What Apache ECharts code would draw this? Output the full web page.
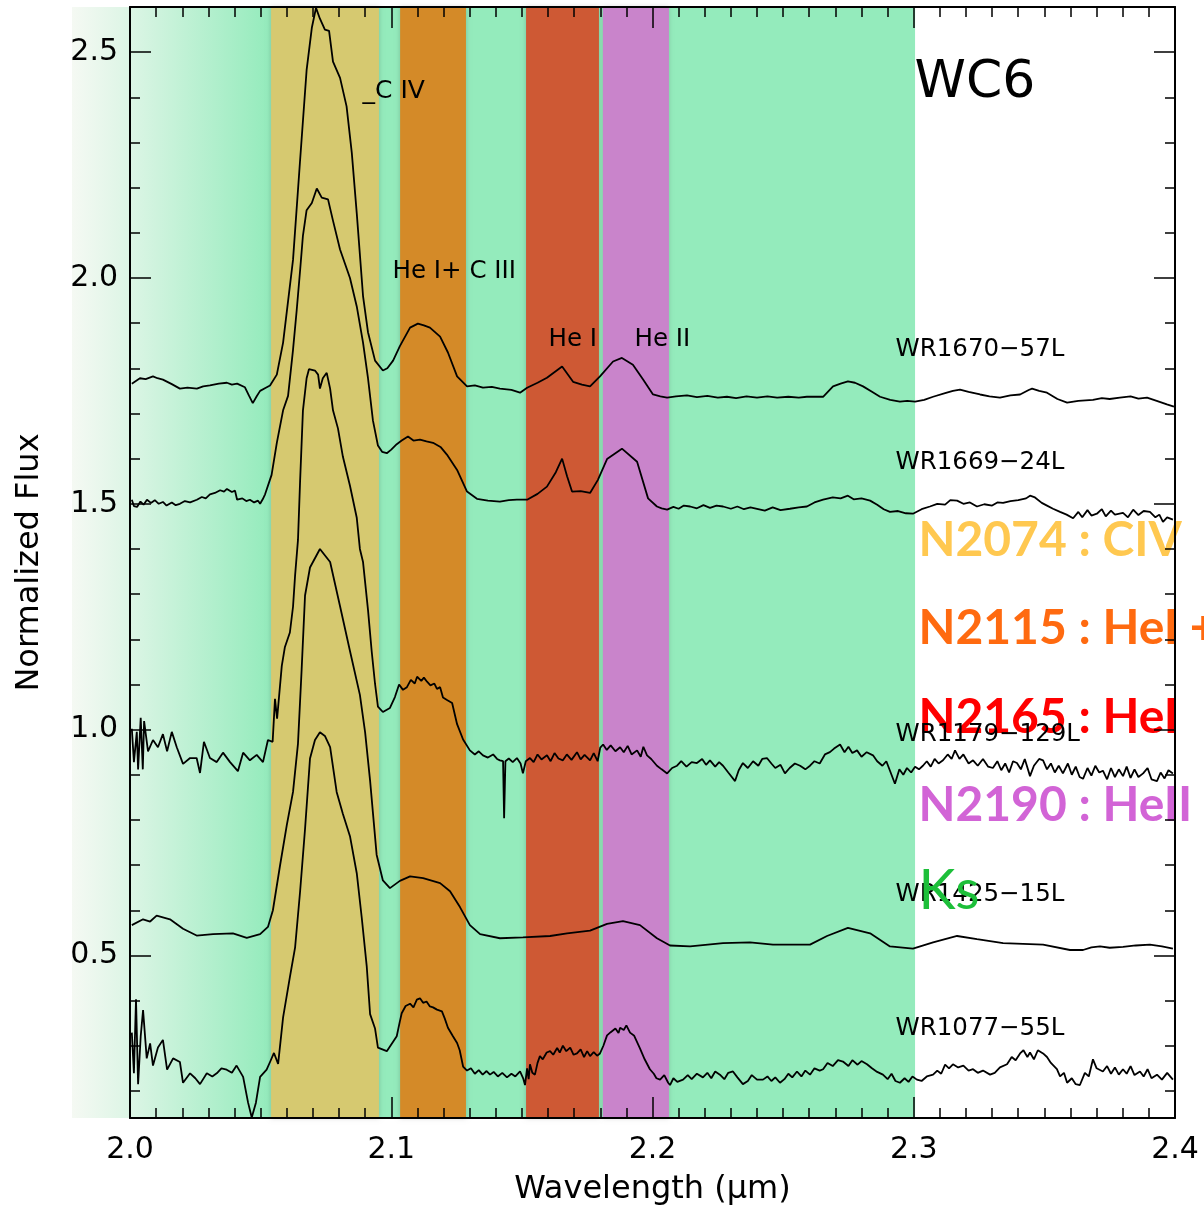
<!DOCTYPE html>
<html>
<head>
<meta charset="utf-8">
<script src="https://cdn.jsdelivr.net/npm/echarts@6/dist/echarts.min.js"></script>
<style>
html,body{margin:0;padding:0;background:#fff;}
#chart{width:1204px;height:1214px;}
</style>
</head>
<body>
<div id="chart"></div>
<script>
// ---------------- DATA ----------------
const xTickLabels = [2.0, 2.1, 2.2, 2.3, 2.4];
const yTickLabels = [0.5, 1.0, 1.5, 2.0, 2.5];
const yMinorTicks = [0.2, 0.3, 0.4, 0.6, 0.7, 0.8, 0.9, 1.1, 1.2, 1.3, 1.4, 1.6, 1.7, 1.8, 1.9, 2.1, 2.2, 2.3, 2.4];

// spectral windows (micron)
const bandNames = ['CIV', 'HeI+CIII', 'HeI', 'HeII'];
const bandStart = [2.0540, 2.1034, 2.1516, 2.1810];
const bandEnd   = [2.0953, 2.1286, 2.1795, 2.2063];
const ksStart = 2.0536, ksEnd = 2.3005;

// spectra: [wavelength (um), normalized flux]
const wr1670 = [[2.0007,1.766],[2.0038,1.778],[2.0060,1.776],[2.0088,1.782],[2.0105,1.778],[2.0126,1.775],[2.0160,1.765],[2.0191,1.755],[2.0220,1.757],[2.0256,1.755],[2.0280,1.760],[2.0306,1.762],[2.0340,1.766],[2.0371,1.768],[2.0390,1.764],[2.0410,1.766],[2.0440,1.758],[2.0455,1.740],[2.0470,1.723],[2.0485,1.738],[2.0498,1.750],[2.0520,1.757],[2.0536,1.762],[2.0562,1.786],[2.0586,1.857],[2.0624,2.040],[2.0651,2.260],[2.0676,2.460],[2.0696,2.554],[2.0712,2.598],[2.0727,2.574],[2.0746,2.550],[2.0762,2.547],[2.0777,2.479],[2.0804,2.443],[2.0829,2.380],[2.0849,2.277],[2.0868,2.143],[2.0892,1.960],[2.0911,1.880],[2.0938,1.817],[2.0968,1.795],[2.0985,1.800],[2.1007,1.817],[2.1033,1.849],[2.1072,1.890],[2.1102,1.899],[2.1125,1.895],[2.1148,1.890],[2.1187,1.870],[2.1217,1.835],[2.1252,1.782],[2.1290,1.760],[2.1320,1.762],[2.1351,1.757],[2.1385,1.759],[2.1416,1.755],[2.1460,1.752],[2.1493,1.746],[2.1520,1.757],[2.1560,1.768],[2.1596,1.779],[2.1654,1.804],[2.1696,1.770],[2.1730,1.764],[2.1761,1.760],[2.1799,1.782],[2.1849,1.815],[2.1883,1.823],[2.1925,1.808],[2.1964,1.775],[2.2002,1.742],[2.2030,1.738],[2.2056,1.735],[2.2090,1.738],[2.2132,1.740],[2.2170,1.736],[2.2210,1.739],[2.2250,1.735],[2.2285,1.737],[2.2320,1.734],[2.2360,1.738],[2.2400,1.735],[2.2440,1.738],[2.2477,1.735],[2.2520,1.737],[2.2560,1.735],[2.2591,1.737],[2.2653,1.737],[2.2691,1.760],[2.2720,1.766],[2.2748,1.771],[2.2775,1.768],[2.2806,1.760],[2.2840,1.748],[2.2871,1.737],[2.2910,1.730],[2.2947,1.726],[2.2975,1.728],[2.3005,1.726],[2.3040,1.730],[2.3074,1.737],[2.3120,1.745],[2.3150,1.750],[2.3177,1.753],[2.3210,1.748],[2.3254,1.742],[2.3290,1.738],[2.3330,1.735],[2.3370,1.740],[2.3407,1.742],[2.3440,1.752],[2.3453,1.755],[2.3480,1.750],[2.3510,1.746],[2.3550,1.732],[2.3587,1.724],[2.3630,1.728],[2.3686,1.730],[2.3720,1.734],[2.3750,1.732],[2.3789,1.735],[2.3830,1.738],[2.3860,1.733],[2.3893,1.735],[2.3930,1.728],[2.3969,1.720],[2.3996,1.715]];

const wr1669 = [[2.0007,1.509],[2.0015,1.495],[2.0027,1.493],[2.0040,1.505],[2.0052,1.498],[2.0065,1.509],[2.0080,1.502],[2.0095,1.508],[2.0110,1.500],[2.0126,1.504],[2.0140,1.496],[2.0160,1.503],[2.0175,1.497],[2.0191,1.500],[2.0210,1.506],[2.0230,1.503],[2.0256,1.509],[2.0275,1.515],[2.0290,1.512],[2.0306,1.521],[2.0325,1.524],[2.0345,1.530],[2.0360,1.527],[2.0371,1.533],[2.0390,1.526],[2.0402,1.529],[2.0410,1.509],[2.0430,1.512],[2.0445,1.506],[2.0459,1.509],[2.0475,1.503],[2.0490,1.507],[2.0498,1.500],[2.0508,1.510],[2.0517,1.521],[2.0542,1.564],[2.0562,1.635],[2.0586,1.707],[2.0605,1.739],[2.0624,1.841],[2.0638,1.928],[2.0651,2.016],[2.0662,2.094],[2.0676,2.150],[2.0696,2.166],[2.0715,2.198],[2.0734,2.178],[2.0758,2.174],[2.0777,2.127],[2.0804,2.063],[2.0842,2.000],[2.0868,1.937],[2.0892,1.857],[2.0911,1.778],[2.0930,1.684],[2.0949,1.629],[2.0965,1.615],[2.0983,1.612],[2.1000,1.620],[2.1021,1.632],[2.1040,1.640],[2.1064,1.649],[2.1085,1.640],[2.1110,1.642],[2.1135,1.638],[2.1160,1.635],[2.1190,1.625],[2.1213,1.609],[2.1252,1.575],[2.1290,1.527],[2.1328,1.511],[2.1370,1.507],[2.1416,1.505],[2.1450,1.508],[2.1481,1.509],[2.1520,1.509],[2.1560,1.522],[2.1596,1.538],[2.1630,1.570],[2.1654,1.600],[2.1673,1.561],[2.1692,1.527],[2.1725,1.528],[2.1761,1.524],[2.1791,1.553],[2.1826,1.599],[2.1883,1.622],[2.1941,1.593],[2.1983,1.512],[2.2017,1.494],[2.2035,1.490],[2.2056,1.487],[2.2080,1.493],[2.2100,1.489],[2.2120,1.496],[2.2144,1.494],[2.2170,1.490],[2.2195,1.497],[2.2220,1.491],[2.2245,1.496],[2.2270,1.494],[2.2300,1.489],[2.2325,1.494],[2.2350,1.488],[2.2375,1.492],[2.2400,1.489],[2.2430,1.485],[2.2460,1.492],[2.2490,1.486],[2.2526,1.489],[2.2560,1.492],[2.2591,1.494],[2.2620,1.503],[2.2653,1.509],[2.2690,1.514],[2.2720,1.512],[2.2748,1.518],[2.2770,1.510],[2.2800,1.512],[2.2833,1.507],[2.2860,1.498],[2.2885,1.488],[2.2909,1.482],[2.2940,1.484],[2.2970,1.479],[2.2997,1.478],[2.3030,1.488],[2.3062,1.494],[2.3090,1.500],[2.3120,1.498],[2.3140,1.508],[2.3166,1.507],[2.3190,1.500],[2.3215,1.503],[2.3242,1.494],[2.3270,1.499],[2.3300,1.496],[2.3320,1.503],[2.3342,1.502],[2.3370,1.506],[2.3400,1.508],[2.3430,1.512],[2.3445,1.518],[2.3464,1.514],[2.3490,1.502],[2.3510,1.496],[2.3533,1.489],[2.3560,1.482],[2.3585,1.476],[2.3610,1.468],[2.3630,1.482],[2.3645,1.470],[2.3665,1.486],[2.3680,1.474],[2.3701,1.478],[2.3720,1.488],[2.3735,1.472],[2.3755,1.485],[2.3770,1.476],[2.3801,1.480],[2.3820,1.470],[2.3840,1.487],[2.3860,1.475],[2.3880,1.484],[2.3904,1.482],[2.3925,1.470],[2.3940,1.476],[2.3954,1.460],[2.3970,1.470],[2.3992,1.465]];

const wr1179 = [[2.0007,1.002],[2.0015,0.928],[2.0026,0.995],[2.0031,0.912],[2.0041,1.026],[2.0049,0.912],[2.0054,1.019],[2.0069,0.952],[2.0088,0.977],[2.0107,0.961],[2.0126,0.990],[2.0142,0.952],[2.0160,0.995],[2.0179,0.961],[2.0203,0.924],[2.0230,0.937],[2.0255,0.937],[2.0268,0.904],[2.0283,0.973],[2.0306,0.937],[2.0332,0.928],[2.0356,0.949],[2.0383,0.928],[2.0413,0.908],[2.0433,0.949],[2.0459,0.932],[2.0485,0.944],[2.0509,0.928],[2.0528,0.977],[2.0546,0.973],[2.0555,1.068],[2.0563,1.024],[2.0581,1.141],[2.0593,1.183],[2.0612,1.215],[2.0624,1.272],[2.0632,1.342],[2.0643,1.420],[2.0651,1.549],[2.0662,1.707],[2.0676,1.778],[2.0685,1.798],[2.0708,1.795],[2.0720,1.786],[2.0727,1.755],[2.0738,1.778],[2.0753,1.790],[2.0766,1.755],[2.0777,1.707],[2.0796,1.667],[2.0815,1.604],[2.0842,1.540],[2.0868,1.469],[2.0880,1.400],[2.0892,1.371],[2.0911,1.265],[2.0925,1.174],[2.0938,1.101],[2.0949,1.051],[2.0968,1.039],[2.0995,1.048],[2.1014,1.072],[2.1030,1.100],[2.1045,1.088],[2.1060,1.094],[2.1075,1.110],[2.1090,1.102],[2.1099,1.117],[2.1115,1.108],[2.1125,1.115],[2.1137,1.106],[2.1150,1.098],[2.1165,1.102],[2.1175,1.090],[2.1187,1.094],[2.1198,1.071],[2.1215,1.065],[2.1233,1.059],[2.1252,1.012],[2.1275,0.978],[2.1301,0.954],[2.1320,0.945],[2.1335,0.952],[2.1351,0.943],[2.1370,0.938],[2.1390,0.945],[2.1405,0.935],[2.1416,0.932],[2.1428,0.930],[2.1432,0.804],[2.1437,0.930],[2.1450,0.936],[2.1465,0.928],[2.1481,0.937],[2.1495,0.925],[2.1504,0.903],[2.1515,0.930],[2.1531,0.937],[2.1545,0.928],[2.1560,0.945],[2.1575,0.934],[2.1596,0.943],[2.1610,0.930],[2.1625,0.948],[2.1640,0.936],[2.1657,0.932],[2.1672,0.945],[2.1690,0.933],[2.1711,0.950],[2.1725,0.934],[2.1740,0.944],[2.1761,0.932],[2.1775,0.948],[2.1790,0.930],[2.1800,0.960],[2.1811,0.967],[2.1825,0.955],[2.1840,0.965],[2.1858,0.952],[2.1876,0.961],[2.1890,0.950],[2.1905,0.964],[2.1920,0.945],[2.1941,0.954],[2.1955,0.940],[2.1965,0.962],[2.1979,0.943],[2.1995,0.935],[2.2017,0.920],[2.2035,0.912],[2.2056,0.903],[2.2075,0.915],[2.2094,0.920],[2.2110,0.930],[2.2130,0.918],[2.2150,0.928],[2.2170,0.926],[2.2190,0.935],[2.2205,0.922],[2.2220,0.932],[2.2240,0.918],[2.2255,0.928],[2.2270,0.920],[2.2290,0.905],[2.2316,0.886],[2.2330,0.910],[2.2346,0.926],[2.2365,0.915],[2.2385,0.930],[2.2405,0.920],[2.2420,0.935],[2.2438,0.937],[2.2455,0.925],[2.2470,0.915],[2.2490,0.922],[2.2507,0.903],[2.2525,0.915],[2.2545,0.925],[2.2565,0.920],[2.2585,0.912],[2.2603,0.920],[2.2620,0.930],[2.2640,0.925],[2.2660,0.945],[2.2679,0.950],[2.2695,0.958],[2.2718,0.967],[2.2735,0.950],[2.2750,0.962],[2.2765,0.948],[2.2783,0.954],[2.2800,0.940],[2.2820,0.950],[2.2844,0.943],[2.2860,0.930],[2.2880,0.920],[2.2895,0.930],[2.2909,0.909],[2.2928,0.880],[2.2945,0.912],[2.2960,0.900],[2.2974,0.915],[2.2990,0.905],[2.3005,0.918],[2.3020,0.912],[2.3035,0.920],[2.3050,0.930],[2.3065,0.918],[2.3080,0.935],[2.3095,0.925],[2.3112,0.932],[2.3130,0.945],[2.3145,0.935],[2.3158,0.954],[2.3175,0.935],[2.3190,0.945],[2.3210,0.925],[2.3227,0.932],[2.3245,0.920],[2.3265,0.935],[2.3285,0.918],[2.3303,0.915],[2.3320,0.930],[2.3335,0.910],[2.3350,0.925],[2.3365,0.905],[2.3380,0.930],[2.3395,0.926],[2.3410,0.912],[2.3425,0.935],[2.3445,0.897],[2.3460,0.920],[2.3480,0.935],[2.3495,0.932],[2.3510,0.912],[2.3525,0.925],[2.3540,0.905],[2.3555,0.920],[2.3571,0.903],[2.3590,0.925],[2.3605,0.900],[2.3620,0.918],[2.3635,0.895],[2.3648,0.891],[2.3665,0.915],[2.3680,0.898],[2.3695,0.920],[2.3710,0.905],[2.3724,0.909],[2.3740,0.890],[2.3755,0.915],[2.3770,0.895],[2.3785,0.912],[2.3801,0.897],[2.3815,0.918],[2.3830,0.893],[2.3845,0.912],[2.3860,0.895],[2.3878,0.903],[2.3895,0.915],[2.3910,0.890],[2.3931,0.886],[2.3945,0.905],[2.3960,0.892],[2.3975,0.910],[2.3992,0.903]];

const wr1425 = [[2.0007,0.567],[2.0050,0.580],[2.0077,0.575],[2.0102,0.588],[2.0153,0.580],[2.0203,0.559],[2.0255,0.544],[2.0318,0.547],[2.0394,0.549],[2.0447,0.539],[2.0498,0.547],[2.0528,0.563],[2.0547,0.600],[2.0574,0.698],[2.0600,0.788],[2.0624,0.862],[2.0643,0.969],[2.0657,1.133],[2.0670,1.297],[2.0689,1.359],[2.0727,1.400],[2.0766,1.371],[2.0804,1.273],[2.0842,1.174],[2.0880,1.077],[2.0900,0.994],[2.0919,0.887],[2.0944,0.723],[2.0968,0.666],[2.0995,0.649],[2.1033,0.665],[2.1072,0.675],[2.1122,0.671],[2.1187,0.660],[2.1225,0.642],[2.1263,0.607],[2.1301,0.567],[2.1340,0.547],[2.1416,0.538],[2.1504,0.540],[2.1608,0.543],[2.1673,0.549],[2.1761,0.555],[2.1826,0.570],[2.1887,0.576],[2.1952,0.567],[2.2017,0.538],[2.2067,0.522],[2.2144,0.520],[2.2270,0.527],[2.2373,0.529],[2.2461,0.524],[2.2565,0.524],[2.2603,0.524],[2.2668,0.543],[2.2748,0.561],[2.2833,0.549],[2.2909,0.520],[2.2997,0.515],[2.3074,0.529],[2.3166,0.543],[2.3242,0.536],[2.3342,0.527],[2.3495,0.524],[2.3598,0.512],[2.3648,0.512],[2.3680,0.518],[2.3713,0.520],[2.3750,0.517],[2.3801,0.519],[2.3850,0.522],[2.3904,0.524],[2.3950,0.520],[2.3992,0.515]];

const wr1077 = [[2.0007,0.329],[2.0015,0.239],[2.0023,0.403],[2.0031,0.215],[2.0041,0.321],[2.0050,0.379],[2.0064,0.272],[2.0077,0.305],[2.0088,0.256],[2.0107,0.296],[2.0126,0.313],[2.0142,0.247],[2.0165,0.272],[2.0191,0.264],[2.0203,0.218],[2.0230,0.239],[2.0250,0.228],[2.0268,0.215],[2.0294,0.239],[2.0315,0.232],[2.0332,0.239],[2.0350,0.250],[2.0370,0.247],[2.0390,0.240],[2.0408,0.256],[2.0433,0.231],[2.0452,0.174],[2.0466,0.141],[2.0482,0.174],[2.0498,0.231],[2.0523,0.247],[2.0536,0.264],[2.0551,0.284],[2.0567,0.260],[2.0586,0.363],[2.0612,0.452],[2.0632,0.518],[2.0651,0.641],[2.0670,0.780],[2.0689,0.936],[2.0708,0.977],[2.0727,0.994],[2.0746,0.986],[2.0766,0.961],[2.0791,0.862],[2.0815,0.813],[2.0842,0.764],[2.0868,0.682],[2.0887,0.584],[2.0906,0.477],[2.0919,0.370],[2.0938,0.338],[2.0949,0.296],[2.0983,0.288],[2.1021,0.321],[2.1033,0.354],[2.1040,0.372],[2.1055,0.388],[2.1072,0.393],[2.1085,0.385],[2.1098,0.402],[2.1110,0.405],[2.1122,0.395],[2.1135,0.398],[2.1148,0.387],[2.1160,0.385],[2.1175,0.380],[2.1194,0.376],[2.1205,0.360],[2.1217,0.340],[2.1235,0.322],[2.1252,0.306],[2.1262,0.290],[2.1275,0.254],[2.1290,0.245],[2.1305,0.250],[2.1320,0.238],[2.1335,0.246],[2.1350,0.236],[2.1365,0.244],[2.1378,0.236],[2.1392,0.242],[2.1408,0.232],[2.1425,0.240],[2.1443,0.230],[2.1460,0.238],[2.1475,0.232],[2.1493,0.243],[2.1505,0.228],[2.1512,0.213],[2.1520,0.250],[2.1526,0.226],[2.1531,0.259],[2.1540,0.240],[2.1550,0.236],[2.1560,0.262],[2.1569,0.277],[2.1580,0.270],[2.1595,0.285],[2.1608,0.288],[2.1620,0.280],[2.1635,0.295],[2.1645,0.285],[2.1657,0.300],[2.1670,0.288],[2.1685,0.296],[2.1698,0.280],[2.1711,0.283],[2.1725,0.292],[2.1738,0.275],[2.1750,0.288],[2.1761,0.277],[2.1775,0.286],[2.1788,0.278],[2.1799,0.283],[2.1812,0.300],[2.1826,0.323],[2.1840,0.330],[2.1858,0.338],[2.1870,0.328],[2.1876,0.340],[2.1890,0.335],[2.1900,0.345],[2.1914,0.329],[2.1930,0.322],[2.1952,0.294],[2.1970,0.270],[2.1990,0.248],[2.2005,0.238],[2.2015,0.228],[2.2029,0.225],[2.2045,0.235],[2.2060,0.218],[2.2067,0.213],[2.2080,0.228],[2.2095,0.220],[2.2117,0.225],[2.2135,0.235],[2.2150,0.226],[2.2170,0.238],[2.2193,0.230],[2.2210,0.240],[2.2225,0.228],[2.2240,0.243],[2.2258,0.236],[2.2275,0.226],[2.2290,0.240],[2.2308,0.243],[2.2325,0.230],[2.2346,0.215],[2.2365,0.222],[2.2380,0.235],[2.2400,0.225],[2.2423,0.225],[2.2440,0.232],[2.2455,0.222],[2.2470,0.230],[2.2488,0.218],[2.2505,0.226],[2.2520,0.238],[2.2535,0.230],[2.2553,0.243],[2.2570,0.232],[2.2585,0.245],[2.2603,0.236],[2.2620,0.250],[2.2640,0.245],[2.2653,0.248],[2.2670,0.262],[2.2690,0.255],[2.2710,0.268],[2.2729,0.265],[2.2750,0.255],[2.2765,0.268],[2.2785,0.258],[2.2800,0.266],[2.2821,0.259],[2.2840,0.250],[2.2860,0.242],[2.2882,0.236],[2.2900,0.226],[2.2915,0.238],[2.2930,0.222],[2.2947,0.218],[2.2965,0.228],[2.2980,0.220],[2.2995,0.232],[2.3012,0.225],[2.3030,0.222],[2.3050,0.232],[2.3074,0.236],[2.3090,0.245],[2.3105,0.238],[2.3120,0.258],[2.3135,0.250],[2.3150,0.259],[2.3170,0.252],[2.3190,0.256],[2.3210,0.245],[2.3227,0.248],[2.3245,0.240],[2.3265,0.245],[2.3292,0.236],[2.3310,0.240],[2.3330,0.252],[2.3357,0.259],[2.3375,0.275],[2.3390,0.268],[2.3407,0.283],[2.3420,0.290],[2.3435,0.275],[2.3445,0.285],[2.3460,0.270],[2.3475,0.290],[2.3495,0.283],[2.3510,0.275],[2.3525,0.262],[2.3548,0.248],[2.3560,0.232],[2.3575,0.240],[2.3587,0.218],[2.3605,0.228],[2.3620,0.215],[2.3636,0.213],[2.3655,0.240],[2.3670,0.232],[2.3686,0.270],[2.3700,0.250],[2.3724,0.243],[2.3740,0.255],[2.3755,0.238],[2.3770,0.252],[2.3785,0.236],[2.3801,0.248],[2.3815,0.238],[2.3830,0.255],[2.3845,0.235],[2.3866,0.243],[2.3880,0.232],[2.3895,0.248],[2.3910,0.228],[2.3931,0.236],[2.3950,0.225],[2.3970,0.240],[2.3992,0.225]];

const starNames = ['WR1670\u221257L', 'WR1669\u221224L', 'WR1179\u2212129L', 'WR1425\u221215L', 'WR1077\u221255L'];
const filterNames = ['N2074 : CIV', 'N2115 : HeI +', 'N2165 : HeI', 'N2190 : HeII', 'Ks'];

// ---------------- CHART ----------------
const FONT = 'DejaVu Sans';
const spectra = [wr1670, wr1669, wr1179, wr1425, wr1077];

const bandColors = ['#d6c970', '#d48a28', '#ce5934', '#c984cb'];
const ksColor = '#94ebbc';
const gradMain = {type: 'linear', x: 0, y: 0, x2: 1, y2: 0, colorStops: [{offset: 0, color: '#dcf5e5'}, {offset: 1, color: ksColor}]};
const gradStrip = {type: 'linear', x: 0, y: 0, x2: 1, y2: 0, colorStops: [{offset: 0, color: '#f5f9f3'}, {offset: 1, color: '#dcf5e5'}]};
const stripMin = 1.9778;

const areaData = [
  [{xAxis: 2.0, itemStyle: {color: gradMain}}, {xAxis: ksStart}],
  [{xAxis: ksStart, itemStyle: {color: ksColor}}, {xAxis: ksEnd}]
];
bandStart.forEach((s, i) => {
  areaData.push([{xAxis: s, itemStyle: {color: bandColors[i], shadowBlur: 5, shadowColor: 'rgba(0,0,0,0.18)'}}, {xAxis: bandEnd[i]}]);
});

const lineTxt = {fontFamily: FONT, fontSize: 24.5, color: '#000'};
const boldTxt = c => ({fontFamily: 'Lato', fontWeight: 'bold', fontSize: 48, color: c});
const annotations = [
  {t: '_C IV', x: 2.0890, y: 2.414, s: {fontFamily: FONT, fontSize: 25, color: '#000'}},
  {t: 'He I+ C III', x: 2.1005, y: 2.014, s: lineTxt},
  {t: 'He I', x: 2.1602, y: 1.863, s: lineTxt},
  {t: 'He II', x: 2.1931, y: 1.863, s: lineTxt},
  {t: 'WC6', x: 2.3003, y: 2.431, s: {fontFamily: FONT, fontSize: 52, color: '#000'}},
  {t: filterNames[0], x: 2.3018, y: 1.418, s: boldTxt('#ffc850')},
  {t: filterNames[1], x: 2.3018, y: 1.223, s: boldTxt('#ff6a10')},
  {t: filterNames[2], x: 2.3018, y: 1.026, s: boldTxt('#ff0000')},
  {t: filterNames[3], x: 2.3018, y: 0.832, s: boldTxt('#d264d6')},
  {t: starNames[0], x: 2.2930, y: 1.842, s: lineTxt},
  {t: starNames[1], x: 2.2930, y: 1.592, s: lineTxt},
  {t: starNames[2], x: 2.2930, y: 0.989, s: lineTxt},
  {t: starNames[3], x: 2.2930, y: 0.634, s: lineTxt},
  {t: starNames[4], x: 2.2930, y: 0.337, s: lineTxt},
  {t: filterNames[4], x: 2.3018, y: 0.643, s: {fontFamily: 'Lato', fontSize: 56, color: '#1dbf3a'}}
];

const axisLineStyle = {color: '#000', width: 2};
const tickStyle = {color: '#000', width: 1.5};
const labelStyle = {fontFamily: FONT, fontSize: 30, color: '#000'};

const option = {
  animation: false,
  backgroundColor: '#fff',
  grid: [
    {left: 130, right: 29, top: 7, bottom: 96, containLabel: false, outerBoundsMode: 'none'},
    {left: 72, width: 58, top: 7, bottom: 96, containLabel: false, outerBoundsMode: 'none'}
  ],
  xAxis: [
    {gridIndex: 0, type: 'value', min: 2.0, max: 2.4, interval: 0.1, position: 'bottom', z: 10,
     axisLine: {show: true, onZero: false, lineStyle: axisLineStyle},
     axisTick: {show: true, inside: true, length: 21, lineStyle: tickStyle},
     minorTick: {show: true, splitNumber: 10, length: 10, lineStyle: tickStyle},
     axisLabel: Object.assign({show: true, margin: 17, formatter: v => v.toFixed(1)}, labelStyle),
     splitLine: {show: false}, minorSplitLine: {show: false},
     name: 'Wavelength (\u03bcm)', nameLocation: 'middle', nameGap: 56,
     nameTextStyle: {fontFamily: FONT, fontSize: 32, color: '#000'}},
    {gridIndex: 0, type: 'value', min: 2.0, max: 2.4, interval: 0.1, position: 'top', z: 10,
     axisLine: {show: true, onZero: false, lineStyle: axisLineStyle},
     axisTick: {show: true, inside: true, length: 21, lineStyle: tickStyle},
     minorTick: {show: true, splitNumber: 10, length: 10, lineStyle: tickStyle},
     axisLabel: {show: false}, splitLine: {show: false}},
    {gridIndex: 1, type: 'value', min: stripMin, max: 2.0, show: false}
  ],
  yAxis: [
    {gridIndex: 0, type: 'value', min: 0.14, max: 2.6, position: 'left', z: 10,
     axisLine: {show: true, onZero: false, lineStyle: axisLineStyle},
     axisTick: {show: true, inside: true, length: 21, customValues: yTickLabels, lineStyle: tickStyle},
     axisLabel: Object.assign({show: true, margin: 12, customValues: yTickLabels, formatter: v => v.toFixed(1)}, labelStyle),
     splitLine: {show: false},
     name: 'Normalized Flux', nameLocation: 'middle', nameGap: 84,
     nameTextStyle: {fontFamily: FONT, fontSize: 32, color: '#000'}},
    {gridIndex: 0, type: 'value', min: 0.14, max: 2.6, position: 'left', z: 10,
     axisLine: {show: false},
     axisTick: {show: true, inside: true, length: 10, customValues: yMinorTicks, lineStyle: tickStyle},
     axisLabel: {show: false}, splitLine: {show: false}},
    {gridIndex: 0, type: 'value', min: 0.14, max: 2.6, position: 'right', z: 10,
     axisLine: {show: true, onZero: false, lineStyle: axisLineStyle},
     axisTick: {show: true, inside: true, length: 21, customValues: yTickLabels, lineStyle: tickStyle},
     axisLabel: {show: false}, splitLine: {show: false}},
    {gridIndex: 0, type: 'value', min: 0.14, max: 2.6, position: 'right', z: 10,
     axisLine: {show: false},
     axisTick: {show: true, inside: true, length: 10, customValues: yMinorTicks, lineStyle: tickStyle},
     axisLabel: {show: false}, splitLine: {show: false}},
    {gridIndex: 1, type: 'value', min: 0.14, max: 2.6, show: false}
  ],
  series: [
    {type: 'line', xAxisIndex: 2, yAxisIndex: 4, data: [], z: 0, silent: true,
     markArea: {silent: true, label: {show: false}, data: [[{xAxis: stripMin, itemStyle: {color: gradStrip}}, {xAxis: 2.0}]]}},
    {type: 'line', xAxisIndex: 0, yAxisIndex: 0, data: [], z: 1, silent: true,
     markArea: {silent: true, label: {show: false}, data: areaData}}
  ].concat(spectra.map((s, i) => ({
    type: 'line', name: starNames[i], xAxisIndex: 0, yAxisIndex: 0,
    data: s, showSymbol: false, symbol: 'none', smooth: false,
    lineStyle: {color: '#000', width: 1.8}, z: 3, silent: true
  }))).concat([{
    type: 'scatter', xAxisIndex: 0, yAxisIndex: 0, symbolSize: 0, z: 6, silent: true,
    itemStyle: {opacity: 1},
    data: annotations.map(a => ({
      value: [a.x, a.y],
      itemStyle: {opacity: 1},
      label: Object.assign({show: true, opacity: 1, position: 'right', distance: 0, align: 'left', verticalAlign: 'middle', formatter: a.t}, a.s)
    }))
  }])
};

const chart = echarts.init(document.getElementById('chart'));
chart.setOption(option);
</script>
</body>
</html>
